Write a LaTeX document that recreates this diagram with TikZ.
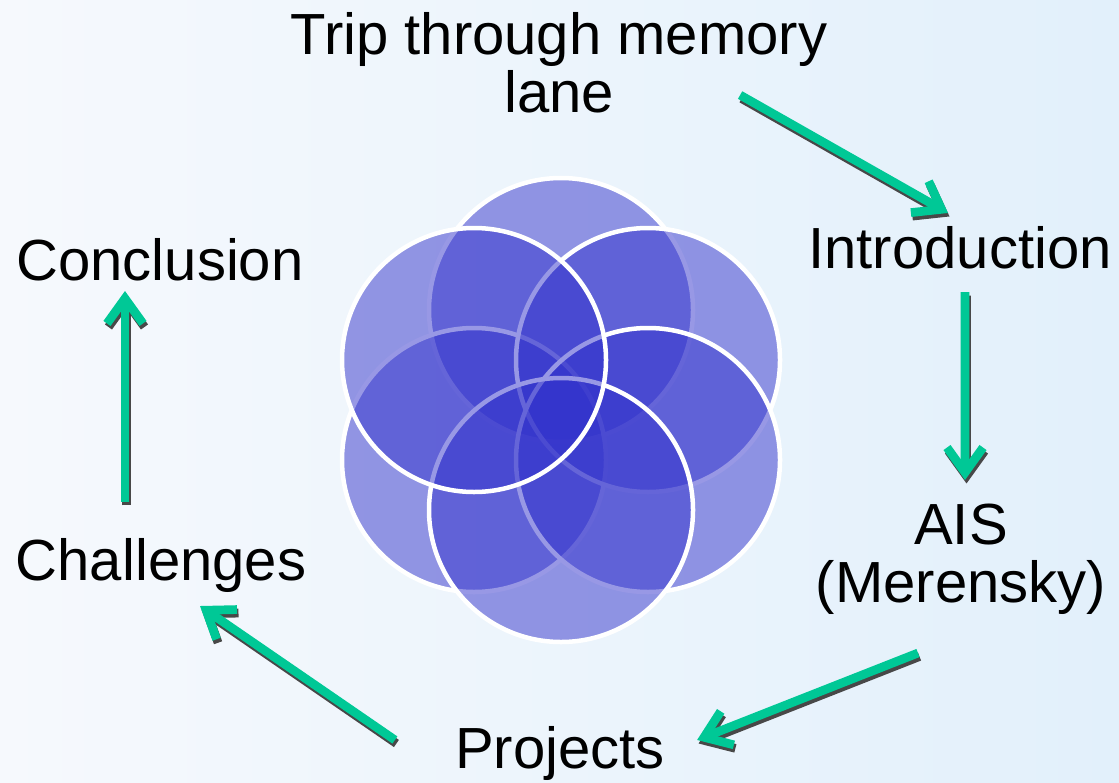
\documentclass[tikz,border=0pt]{standalone}
\usepackage{fontspec}
\setmainfont{Liberation Sans}
\usetikzlibrary{arrows.meta}
\definecolor{flowgreen}{RGB}{0,200,150}
\definecolor{flowshadow}{RGB}{72,72,72}
\definecolor{petal}{RGB}{51,51,204}
\definecolor{bgleft}{RGB}{246,249,253}
\definecolor{bgright}{RGB}{226,240,251}
% green arrow with its dark shadow
\newcommand{\flowarrow}[2]{%
    \draw[flow, draw=flowshadow, transform canvas={shift={(0.015cm,-0.035cm)}}] #1 -- #2;
    \draw[flow] #1 -- #2;}
\begin{document}
\begin{tikzpicture}[x=0.01cm,y=-0.01cm,
    topic/.style={inner sep=0pt, align=center, font=\fontsize{16.5}{16.5}\selectfont},
    petalcircle/.style={fill=petal, fill opacity=0.5, draw=white, line width=0.045cm},
    flow/.style={draw=flowgreen, line width=0.087cm,
        -{Straight Barb[length=0.25cm,width=0.36cm]}}]
        % Background
        \useasboundingbox (0,0) rectangle (1119,782);
        \shade[left color=bgleft, right color=bgright] (0,0) rectangle (1119,782);
        % Circles
        \foreach \cx/\cy in {561/310, 474/460, 648/360, 648/460, 561/510, 474/360}
            \draw[petalcircle] (\cx,\cy) circle[radius=132];
        % Nodes
        \node[topic, anchor=north] (trip) at (559,12) {Trip through memory\\lane};
        \node[topic, anchor=base] (intro) at (960,268) {Introduction};
        \node[topic, anchor=north] (ais) at (961,503) {AIS\\(Merensky)};
        \node[topic, anchor=base] (projects) at (560,768) {Projects};
        \node[topic, anchor=base] (challenges) at (161,580) {Challenges};
        \node[topic, anchor=base] (conclusion) at (160,280) {Conclusion};
        % Arrows
        \flowarrow{([xshift=1.81cm,yshift=-0.83cm]trip.north)}{([xshift=-0.12cm,yshift=0.55cm]intro.base)}
        \flowarrow{([xshift=0.05cm,yshift=-0.24cm]intro.base)}{([xshift=0.04cm,yshift=0.23cm]ais.north)}
        \flowarrow{([xshift=-0.43cm,yshift=-0.38cm]ais.south)}{([xshift=1.37cm,yshift=0.28cm]projects.base)}
        \flowarrow{([xshift=-1.65cm,yshift=0.28cm]projects.base)}{([xshift=0.39cm,yshift=-0.26cm]challenges.base)}
        \flowarrow{([xshift=-0.36cm,yshift=0.78cm]challenges.base)}{([xshift=-0.35cm,yshift=-0.11cm]conclusion.base)}
\end{tikzpicture}
\end{document}
